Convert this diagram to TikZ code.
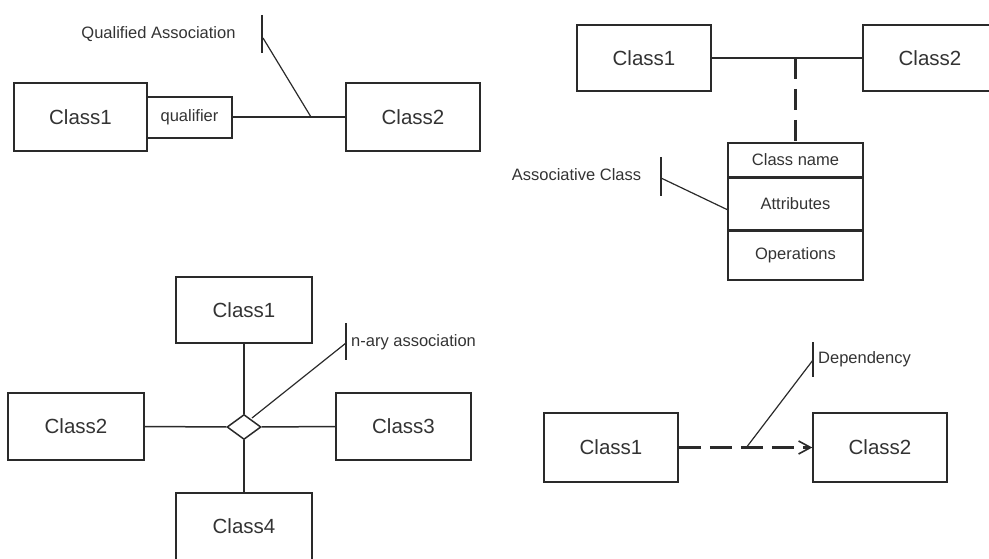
\documentclass[tikz,border=0pt]{standalone}
\usepackage{fontspec}
\setmainfont{Liberation Sans}
\usetikzlibrary{shapes.geometric,arrows.meta}
\definecolor{ink}{HTML}{2A2A2A}
\definecolor{txt}{HTML}{333333}
\begin{document}
\begin{tikzpicture}[x=1pt,y=-1pt,
  classbox/.style={draw=ink,line width=1.5pt,minimum width=#1,minimum height=67pt,inner sep=0pt,
    text=txt,font=\fontsize{20.5}{24}\selectfont},
  classbox/.default=134pt,
  smallbox/.style={draw=ink,line width=1.5pt,inner sep=0pt,text=txt,font=\fontsize{16.5}{19}\selectfont},
  note/.style={text=txt,font=\fontsize{16.5}{19}\selectfont,inner sep=0pt},
  assoc/.style={draw=ink,line width=1.5pt},
  bar/.style={draw=ink,line width=1.6pt},
  leader/.style={draw=ink,line width=1.2pt},
  thickdash/.style={draw=ink,line width=3pt,dash pattern=on 21pt off 10pt}
]
\clip (0,0) rectangle (989,559);
\useasboundingbox (0,0) rectangle (989,559);

% ---------- Qualified association (top left)
\node[classbox=133pt,minimum height=68pt] (qc1) at (80.5,117) {Class1};
\node[smallbox,minimum width=85pt,minimum height=41pt] (qual) at (189.5,117.5) {qualifier};
\node[classbox,minimum height=68pt] (qc2) at (413,117) {Class2};
\draw[assoc] (qual.east |- qc2.west) -- (qc2.west);
\coordinate (qa-bt) at (262,15);
\coordinate (qa-bb) at (262,53);
\coordinate (qa-j) at (263,38);
\coordinate (qa-f) at (311,117);
\draw[bar] (qa-bt) -- (qa-bb);
\draw[leader] (qa-j) -- (qa-f);
\node[note] (qa-t) at (158.5,34) {Qualified Association};

% ---------- Associative class (top right)
\node[classbox,minimum height=66pt] (ac1) at (644,58) {Class1};
\node[classbox,minimum height=66pt] (ac2) at (930,58) {Class2};
\draw[assoc] (ac1.east) -- (ac2.west);
\node[smallbox,minimum width=135pt,minimum height=34pt] (acn) at (795.5,160) {Class name};
\node[smallbox,minimum width=135pt,minimum height=51pt,anchor=north] (aca) at (acn.south) {Attributes};
\node[smallbox,minimum width=135pt,minimum height=49pt,anchor=north] (aco) at (aca.south) {Operations};
\coordinate (ac-m) at (acn.north |- ac1.east);
\draw[thickdash] (ac-m) -- (acn.north);
\coordinate (ac-bt) at (661,157);
\coordinate (ac-bb) at (661,196);
\coordinate (ac-j) at (661,178);
\coordinate (ac-f) at (aca.west);
\draw[bar] (ac-bt) -- (ac-bb);
\draw[leader] (ac-j) -- (728,210);
\node[note] (ac-t) at (576.5,175) {Associative Class};

% ---------- n-ary association (bottom left)
\node[classbox=136pt,minimum height=66pt] (nc1) at (244,310) {Class1};
\node[classbox=136pt] (nc2) at (76,426.5) {Class2};
\node[classbox=135pt] (nc3) at (403.5,426.5) {Class3};
\node[classbox=136pt] (nc4) at (244,526.5) {Class4};
\node[diamond,draw=ink,line width=1.5pt,fill=white,inner sep=0pt,minimum width=34pt,minimum height=25pt] (dia) at (244,427) {};
\draw[assoc] (nc1.south) -- (dia.north);
\draw[assoc] (nc2.east) -- (dia.west);
\draw[assoc] (dia.east) -- (nc3.west);
\draw[assoc] (dia.south) -- (nc4.north);
\coordinate (na-bt) at (346,323);
\coordinate (na-bb) at (346,360);
\coordinate (na-j) at (346,343);
\coordinate (na-f) at (252,418);
\draw[bar] (na-bt) -- (na-bb);
\draw[leader] (na-j) -- (na-f);
\node[note,anchor=west] (na-t) at (351,342) {n-ary association};

% ---------- Dependency (bottom right)
\node[classbox,minimum height=69pt] (dc1) at (611,447.5) {Class1};
\node[classbox,minimum height=69pt] (dc2) at (880,447.5) {Class2};
\draw[thickdash,dash pattern=on 22pt off 9pt,
  -{Straight Barb[length=12pt,width=13pt,line width=1.6pt]}] (dc1.east) -- (dc2.west);
\coordinate (da-bt) at (813,342);
\coordinate (da-bb) at (813,377);
\coordinate (da-j) at (813,360);
\coordinate (da-f) at (746,448);
\draw[bar] (da-bt) -- (da-bb);
\draw[leader] (da-j) -- (da-f);
\node[note,anchor=west] (da-t) at (818,359) {Dependency};
\end{tikzpicture}
\end{document}
